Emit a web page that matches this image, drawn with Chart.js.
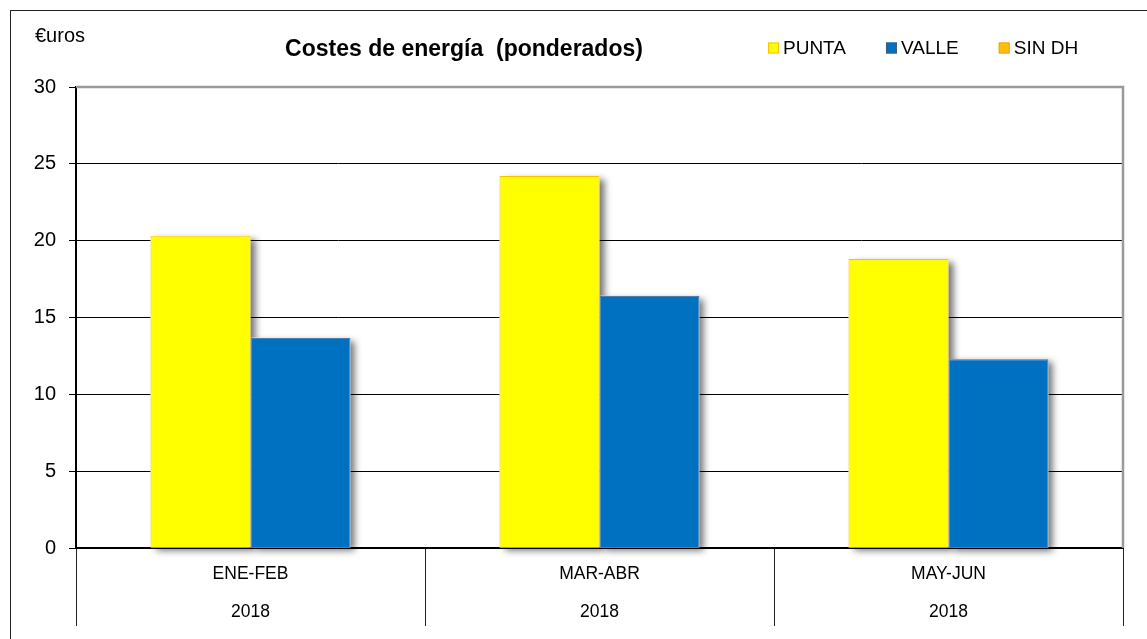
<!DOCTYPE html>
<html>
<head>
<meta charset="utf-8">
<script src="https://cdn.jsdelivr.net/npm/chart.js@4/dist/chart.umd.min.js"></script>
<style>
  html, body { margin: 0; padding: 0; background: #fff; }
  #wrap { width: 1147px; height: 639px; position: relative; }
</style>
</head>
<body>
<div id="wrap"><canvas id="c" width="1147" height="639"></canvas></div>
<script>
// ---- data ----
const categories = ['ENE-FEB', 'MAR-ABR', 'MAY-JUN'];
const years = ['2018', '2018', '2018'];
const seriesNames = ['PUNTA', 'VALLE', 'SIN DH'];
const punta = [20.32, 24.21, 18.81];
const valle = [13.69, 16.42, 12.28];
const sinDH = [null, null, null];
const yMin = 0, yMax = 30, yStep = 5;
const chartTitle = 'Costes de energía  (ponderados)';
const unitLabel = '€uros';

const FONT = '"Liberation Sans", Arial, Helvetica, sans-serif';

const labels = categories.map((c, i) => [c, years[i]]);

const shadowPlugin = {
  id: 'barShadow',
  beforeDatasetsDraw(chart) {
    const ctx = chart.ctx;
    ctx.save();
    ctx.shadowColor = 'rgba(0,0,0,0.55)';
    ctx.shadowBlur = 7;
    ctx.shadowOffsetX = 5;
    ctx.shadowOffsetY = 3;
    ctx.fillStyle = '#ffffff';
    chart.data.datasets.forEach((ds, di) => {
      const meta = chart.getDatasetMeta(di);
      if (meta.hidden) return;
      meta.data.forEach((bar, i) => {
        if (ds.data[i] == null) return;
        const p = bar.getProps(['x', 'y', 'base', 'width'], true);
        const top = Math.min(p.y, p.base);
        const h = Math.abs(p.base - p.y);
        ctx.fillRect(p.x - p.width / 2, top, p.width, h);
      });
    });
    ctx.restore();
  }
};

const decoPlugin = {
  id: 'deco',
  afterDraw(chart) {
    const ctx = chart.ctx;
    const a = chart.chartArea;
    ctx.save();
    // plot frame (top & right, gray)
    ctx.strokeStyle = '#9a9a9a';
    ctx.lineWidth = 2.5;
    ctx.beginPath();
    ctx.moveTo(a.left, a.top);
    ctx.lineTo(a.right, a.top);
    ctx.lineTo(a.right, a.bottom);
    ctx.stroke();
    // outer frame
    ctx.strokeStyle = '#222';
    ctx.lineWidth = 1;
    ctx.strokeRect(10.5, 10.5, 1200, 700);
    // unit label
    ctx.fillStyle = '#000';
    ctx.font = '20px ' + FONT;
    ctx.textAlign = 'left';
    ctx.textBaseline = 'middle';
    ctx.fillText(unitLabel, 35, 36);
    // title
    ctx.font = 'bold 23px ' + FONT;
    ctx.textAlign = 'center';
    ctx.textBaseline = 'alphabetic';
    ctx.fillText(chartTitle, 464, 56);
    // legend
    ctx.font = '19px ' + FONT;
    ctx.textAlign = 'left';
    ctx.textBaseline = 'middle';
    let x = 768;
    const cy = 48;
    chart.data.datasets.forEach((ds) => {
      ctx.fillStyle = ds.backgroundColor;
      ctx.fillRect(x, cy - 5.5, 11, 11);
      ctx.strokeStyle = ds.borderColor;
      ctx.lineWidth = 1;
      ctx.strokeRect(x + 0.5, cy - 5, 10, 10);
      ctx.fillStyle = '#000';
      ctx.fillText(ds.label, x + 15, cy + 1);
      x += 15 + ctx.measureText(ds.label).width + 40;
    });
    ctx.restore();
  }
};

new Chart(document.getElementById('c'), {
  type: 'bar',
  data: {
    labels: labels,
    datasets: [
      { label: seriesNames[0], data: punta, backgroundColor: '#FFFF00', borderColor: '#FFC000', borderWidth: 1 },
      { label: seriesNames[1], data: valle, backgroundColor: '#0070C0', borderColor: '#3B5E8C', borderWidth: 1 },
      { label: seriesNames[2], data: sinDH, backgroundColor: '#FFC000', borderColor: '#F79646', borderWidth: 1 }
    ]
  },
  options: {
    responsive: false,
    animation: false,
    devicePixelRatio: 1,
    layout: { padding: { top: 87, right: 24, left: 0, bottom: 0 } },
    datasets: { bar: { skipNull: true, categoryPercentage: 0.573, barPercentage: 1.0 } },
    plugins: {
      legend: { display: false },
      title: { display: false },
      tooltip: { enabled: false }
    },
    scales: {
      x: {
        afterFit(s) { s.height = 91; },
        grid: { offset: true, drawOnChartArea: false, drawTicks: true, tickLength: 78, color: '#222', lineWidth: 1 },
        border: { display: true, color: '#000', width: 2 },
        ticks: {
          color: '#000',
          padding: -71,
          maxRotation: 0,
          autoSkip: false,
          font: { family: FONT, size: 17.5, lineHeight: 38 / 17.5 }
        }
      },
      y: {
        min: yMin, max: yMax,
        afterFit(s) { s.width = 76; },
        grid: { color: '#000', lineWidth: 1, tickLength: 7, drawTicks: true },
        border: { display: true, color: '#000', width: 2 },
        ticks: {
          stepSize: yStep,
          color: '#000',
          padding: 13,
          font: { family: FONT, size: 20 }
        }
      }
    }
  },
  plugins: [shadowPlugin, decoPlugin]
});
</script>
</body>
</html>
